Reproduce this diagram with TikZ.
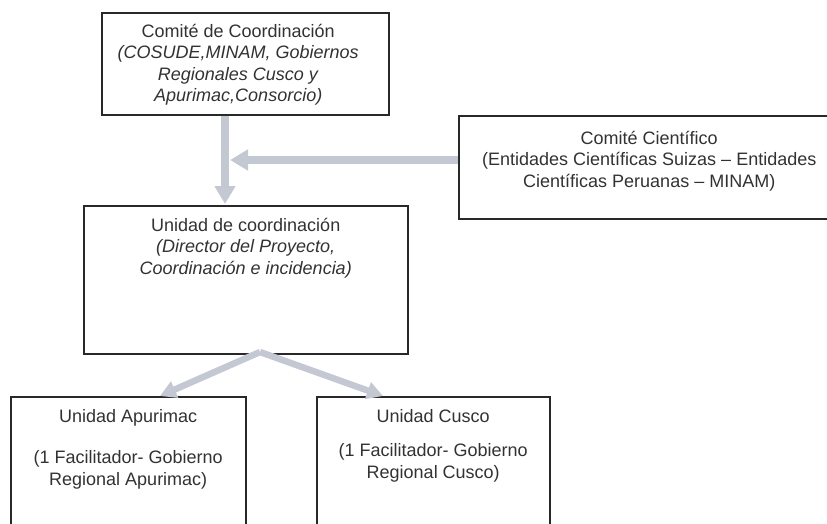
\documentclass[tikz,border=0pt]{standalone}
\usepackage{fontspec}
\setmainfont{Liberation Sans}
\usetikzlibrary{positioning,arrows.meta}
\definecolor{boxline}{RGB}{40,40,40}
\definecolor{txtgray}{RGB}{50,50,50}
\definecolor{arrowgray}{RGB}{196,200,210}
\tikzset{
  orgbox/.style={draw=boxline,line width=1.5pt,inner sep=0pt,anchor=north west},
  orgtext/.style={text=txtgray,inner sep=0pt,align=center,font=\fontsize{18}{21.5}\selectfont},
  flow/.style={draw=arrowgray,line width=8pt,-{Triangle[length=18pt,width=20pt]}},
  flowthin/.style={draw=arrowgray,line width=6.5pt,-{Triangle[length=16pt,width=17pt]}}
}
\begin{document}
\begin{tikzpicture}[x=1pt,y=-1pt]
  \useasboundingbox (0,0) rectangle (827,523);
  \clip (0,0) rectangle (827,523);
  % boxes
  \node[orgbox,minimum width=287pt,minimum height=102pt] (ccoord) at (101,12) {};
  \node[orgbox,minimum width=381pt,minimum height=103pt] (cient) at (458,115) {};
  \node[orgbox,minimum width=324pt,minimum height=148pt] (ucoord) at (83,205) {};
  \node[orgbox,minimum width=235pt,minimum height=150pt] (uapur) at (10,396) {};
  \node[orgbox,minimum width=233pt,minimum height=150pt] (ucusco) at (316,396) {};
  % texts
  \node[orgtext,below=12pt of ccoord.north,xshift=-7pt] (ccoordtxt)
    {Comité de Coordinación\\ \textit{(COSUDE,MINAM, Gobiernos}\\ \textit{Regionales Cusco y}\\ \textit{Apurimac,Consorcio)}};
  \node[orgtext,below=16pt of cient.north] (cienttxt)
    {Comité Científico\\(Entidades Científicas Suizas -- Entidades\\Científicas Peruanas -- MINAM)};
  \node[orgtext,below=13pt of ucoord.north] (ucoordtxt)
    {Unidad de coordinación\\ \textit{(Director del Proyecto,}\\ \textit{Coordinación e incidencia)}};
  \node[orgtext,below=13pt of uapur.north] (uapurtxt)
    {Unidad Apurimac\\[20pt](1 Facilitador- Gobierno\\Regional Apurimac)};
  \node[orgtext,below=13pt of ucusco.north] (ucuscotxt)
    {Unidad Cusco\\[13pt](1 Facilitador- Gobierno\\Regional Cusco)};
  % arrows
  \coordinate (vtip) at (225,204);
  \coordinate (hjoin) at (230,160);
  \coordinate (fork) at (260,352);
  \coordinate (atip) at (160,396);
  \coordinate (ctip) at (383,396);
  \draw[flow] (ccoord.south -| vtip) -- (vtip);
  \draw[flow] (cient.west |- hjoin) -- (hjoin);
  \draw[flowthin] (fork) -- (atip);
  \draw[flowthin] (fork) -- (ctip);
\end{tikzpicture}
\end{document}
